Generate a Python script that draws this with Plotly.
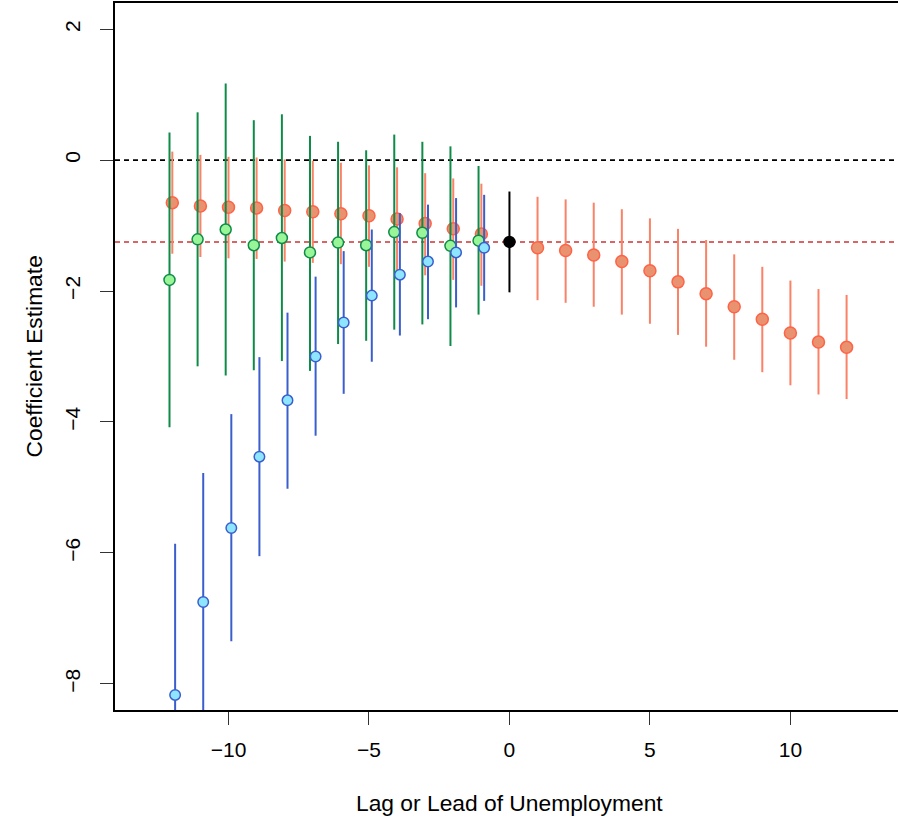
import plotly.graph_objects as go

# ---- data ----
lags = [-12, -11, -10, -9, -8, -7, -6, -5, -4, -3, -2, -1]
leads = [1, 2, 3, 4, 5, 6, 7, 8, 9, 10, 11, 12]

orange_lag_est = [-0.65, -0.70, -0.72, -0.73, -0.77, -0.79, -0.82, -0.85, -0.90, -0.97, -1.05, -1.13]
orange_lag_hi = [0.13, 0.08, 0.05, 0.04, 0.01, -0.01, -0.04, -0.08, -0.11, -0.20, -0.28, -0.36]
orange_lag_lo = [-1.43, -1.48, -1.50, -1.51, -1.55, -1.57, -1.59, -1.63, -1.68, -1.76, -1.83, -1.92]

orange_lead_est = [-1.34, -1.38, -1.45, -1.55, -1.69, -1.86, -2.04, -2.24, -2.43, -2.64, -2.78, -2.86]
orange_lead_hi = [-0.56, -0.60, -0.65, -0.75, -0.89, -1.05, -1.22, -1.44, -1.63, -1.84, -1.97, -2.06]
orange_lead_lo = [-2.14, -2.18, -2.24, -2.36, -2.50, -2.67, -2.85, -3.05, -3.24, -3.44, -3.58, -3.65]

green_est = [-1.83, -1.21, -1.06, -1.30, -1.19, -1.41, -1.26, -1.30, -1.10, -1.11, -1.31, -1.23]
green_hi = [0.42, 0.73, 1.17, 0.61, 0.70, 0.37, 0.28, 0.15, 0.39, 0.28, 0.21, -0.09]
green_lo = [-4.08, -3.15, -3.29, -3.21, -3.07, -3.22, -2.81, -2.76, -2.59, -2.51, -2.84, -2.36]

blue_est = [-8.17, -6.75, -5.62, -4.53, -3.67, -3.00, -2.48, -2.07, -1.75, -1.55, -1.41, -1.34]
blue_hi = [-5.86, -4.78, -3.88, -3.01, -2.33, -1.78, -1.39, -1.06, -0.81, -0.68, -0.58, -0.53]
blue_lo = [-10.48, -8.72, -7.35, -6.05, -5.02, -4.21, -3.57, -3.08, -2.68, -2.43, -2.25, -2.15]

contemp_x = [0]
contemp_est = [-1.25]
contemp_hi = [-0.48]
contemp_lo = [-2.02]

ref_zero = 0.0
ref_contemp = -1.25

x_ticks = [-10, -5, 0, 5, 10]
x_ticklabels = ["\u221210", "\u22125", "0", "5", "10"]
y_ticks = [2, 0, -2, -4, -6, -8]
y_ticklabels = ["2", "0", "\u22122", "\u22124", "\u22126", "\u22128"]

x_title = "Lag or Lead of Unemployment"
y_title = "Coefficient Estimate"

# ---- styles ----
FONT = "Liberation Sans, Arial, Helvetica, sans-serif"
FS = 21
FS_TITLE = 22.8


def stems(x, lo, hi):
    xs, ys = [], []
    for xi, l, h in zip(x, lo, hi):
        xs += [xi, xi, None]
        ys += [l, h, None]
    return xs, ys


def shift(x, d):
    return [v + d for v in x]


fig = go.Figure()


def add_series(x, est, lo, hi, stem_col, fill, edge, size):
    sx, sy = stems(x, lo, hi)
    fig.add_trace(go.Scatter(x=sx, y=sy, mode="lines",
                             line=dict(color=stem_col, width=2),
                             hoverinfo="skip", showlegend=False))
    fig.add_trace(go.Scatter(x=x, y=est, mode="markers",
                             marker=dict(size=size, color=fill,
                                         line=dict(color=edge, width=1.5)),
                             showlegend=False, cliponaxis=True))


# orange (baseline) lags and leads
add_series(lags + leads, orange_lag_est + orange_lead_est,
           orange_lag_lo + orange_lead_lo, orange_lag_hi + orange_lead_hi,
           "#FA8266", "#E8926F", "#FF6347", 12)
# green
add_series(shift(lags, -0.1), green_est, green_lo, green_hi,
           "#0E8C47", "#98F598", "#0E8C47", 11)
# blue
add_series(shift(lags, 0.1), blue_est, blue_lo, blue_hi,
           "#3A5FCD", "#8EE5FF", "#3A5FCD", 10.5)
# contemporaneous (black)
add_series(contemp_x, contemp_est, contemp_lo, contemp_hi,
           "#000000", "#000000", "#000000", 11)

# reference lines
fig.add_hline(y=ref_zero, line=dict(color="#000000", width=1.8, dash="5px,4px"), layer="below")
fig.add_hline(y=ref_contemp, line=dict(color="#CD3333", width=1.5, dash="5px,4px"), layer="below")

fig.update_layout(
    width=898, height=821, autosize=False,
    margin=dict(l=115, r=0, t=3, b=111),
    paper_bgcolor="white", plot_bgcolor="white",
    font=dict(family=FONT, size=FS, color="#000000"),
    showlegend=False,
)

fig.update_xaxes(
    range=[-14.04, 13.83], showgrid=False, zeroline=False,
    showline=True, mirror=True, linecolor="#000000", linewidth=2,
    ticks="outside", ticklen=13, tickwidth=1.3, tickcolor="#333333",
    tickvals=x_ticks, ticktext=x_ticklabels,
    tickfont=dict(family=FONT, size=FS, color="#000000"),
    ticklabelstandoff=7,
)
fig.update_yaxes(
    range=[-8.4, 2.4], showgrid=False, zeroline=False,
    showline=True, mirror=False, linecolor="#000000", linewidth=2,
    ticks="outside", ticklen=13, tickwidth=1.3, tickcolor="#333333",
    tickvals=y_ticks, ticktext=y_ticklabels, tickangle=-90,
    tickfont=dict(family=FONT, size=FS, color="#000000"),
    ticklabelstandoff=12,
)

fig.add_annotation(text=x_title, xref="x", yref="paper", x=0, y=0,
                   yshift=-93, showarrow=False, xanchor="center", yanchor="middle",
                   font=dict(family=FONT, size=FS_TITLE, color="#000000"))
fig.add_annotation(text=y_title, xref="paper", yref="paper", x=0, y=0.5,
                   xshift=-82, showarrow=False, textangle=-90,
                   xanchor="center", yanchor="middle",
                   font=dict(family=FONT, size=FS_TITLE, color="#000000"))

fig.write_html(
    "out.html",
    config={"responsive": False, "displayModeBar": False},
    post_script="document.body.style.margin='0px';document.body.style.overflow='hidden';",
)
